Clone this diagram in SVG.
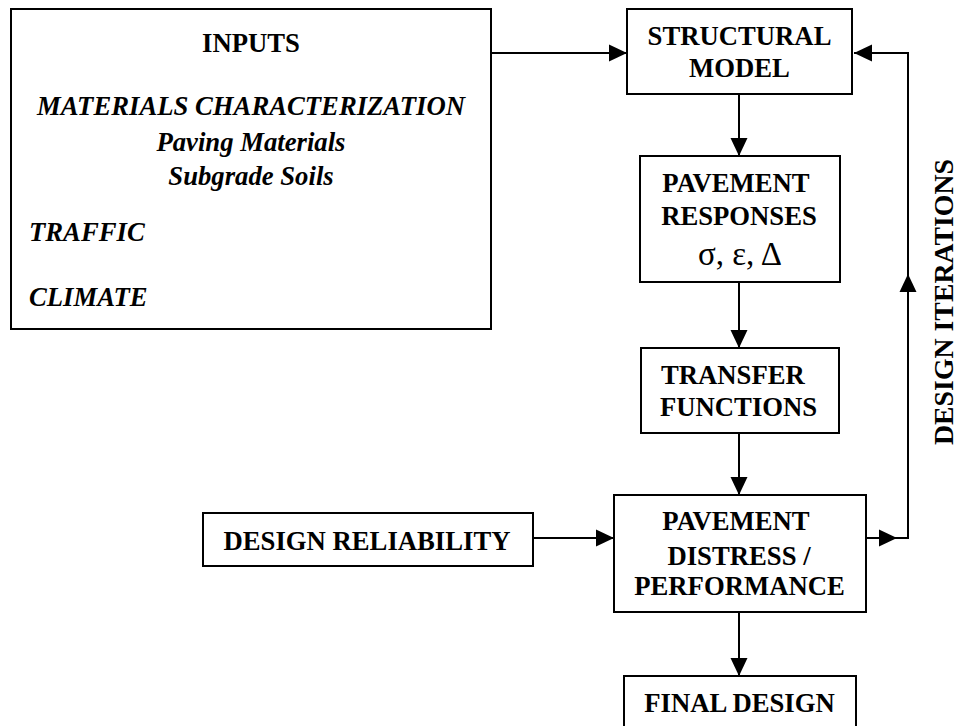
<svg xmlns="http://www.w3.org/2000/svg" width="960" height="726" viewBox="0 0 960 726">
<style>
.box{fill:#fff;stroke:#000;stroke-width:2}
.t{font-family:"Liberation Serif","Times New Roman",serif;font-weight:bold;font-size:26.7px;fill:#000;text-anchor:middle}
.i{font-style:italic}
.s{text-anchor:start}
.n{font-weight:normal}
.c{fill:none;stroke:#000;stroke-width:2}
</style>
<defs>
<marker id="ah" markerUnits="userSpaceOnUse" markerWidth="20" markerHeight="18" refX="18" refY="9" orient="auto">
<path d="M0,0.5 L18,9 L0,17.5 Z" fill="#000"/>
</marker>
</defs>
<g id="connectors">
<line class="c" x1="491" y1="53" x2="627" y2="53" marker-end="url(#ah)"/>
<line class="c" x1="739" y1="94" x2="739" y2="156" marker-end="url(#ah)"/>
<line class="c" x1="739" y1="282" x2="739" y2="348" marker-end="url(#ah)"/>
<line class="c" x1="739" y1="433" x2="739" y2="495" marker-end="url(#ah)"/>
<line class="c" x1="739" y1="612" x2="739" y2="676" marker-end="url(#ah)"/>
<line class="c" x1="533" y1="538" x2="614" y2="538" marker-end="url(#ah)"/>
<line class="c" x1="866" y1="538" x2="897" y2="538" marker-end="url(#ah)"/>
<polyline class="c" points="896,538 908,538 908,274" marker-end="url(#ah)"/>
<polyline class="c" points="908,276 908,53 854,53" marker-end="url(#ah)"/>
</g>
<g id="inputs">
<rect class="box" x="11" y="9" width="480" height="320"/>
<text class="t" x="251" y="52">INPUTS</text>
<text class="t i" x="251" y="115">MATERIALS CHARACTERIZATION</text>
<text class="t i" x="251" y="151">Paving Materials</text>
<text class="t i" x="251" y="185">Subgrade Soils</text>
<text class="t i s" x="29" y="241">TRAFFIC</text>
<text class="t i s" x="29" y="306">CLIMATE</text>
</g>
<g id="structural-model">
<rect class="box" x="627" y="9" width="225" height="85"/>
<text class="t" x="739.5" y="45">STRUCTURAL</text>
<text class="t" x="739.5" y="77">MODEL</text>
</g>
<g id="pavement-responses">
<rect class="box" x="640" y="156" width="200" height="126"/>
<text class="t" x="736" y="192">PAVEMENT</text>
<text class="t" x="739" y="225">RESPONSES</text>
<text class="t n" x="740" y="265" style="font-size:33px">σ, ε, Δ</text>
</g>
<g id="transfer-functions">
<rect class="box" x="641" y="348" width="198" height="85"/>
<text class="t s" x="661" y="384">TRANSFER</text>
<text class="t s" x="660" y="416">FUNCTIONS</text>
</g>
<g id="pavement-distress">
<rect class="box" x="614" y="495" width="252" height="117"/>
<text class="t" x="736" y="530">PAVEMENT</text>
<text class="t" x="739" y="565">DISTRESS /</text>
<text class="t" x="739.5" y="595">PERFORMANCE</text>
</g>
<g id="final-design">
<rect class="box" x="624" y="676" width="232" height="70"/>
<text class="t" x="739.5" y="712">FINAL DESIGN</text>
</g>
<g id="design-reliability">
<rect class="box" x="203" y="513" width="330" height="53"/>
<text class="t" x="367" y="550">DESIGN RELIABILITY</text>
</g>
<g id="design-iterations">
<text class="t" transform="translate(953,302) rotate(-90)" style="font-size:27.8px">DESIGN ITERATIONS</text>
</g>
</svg>
